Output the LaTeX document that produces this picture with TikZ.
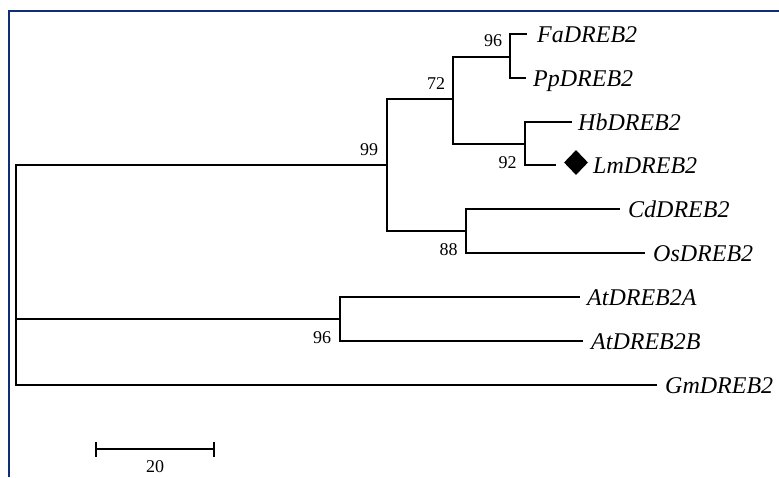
\documentclass[tikz,border=0pt]{standalone}
\usepackage{fontspec}
\setmainfont{Liberation Serif}
\usetikzlibrary{shapes.geometric}
\definecolor{navy}{RGB}{14,46,120}
\begin{document}
\begin{tikzpicture}[x=1pt,y=-1pt,
  branch/.style={line width=1.5pt, black},
  leaf/.style={anchor=base west, inner sep=0pt, font=\fontsize{24}{28}\selectfont\itshape, yshift=-8pt},
  boot/.style={inner sep=0pt, font=\fontsize{18}{20}\selectfont},
  frameline/.style={line width=2.8pt, navy}]
\useasboundingbox (0,0) rectangle (779,477);
% frame
\draw[frameline] (9,477) -- (9,11) -- (779,11);
% internal nodes
\coordinate (root) at (16,275);
\coordinate (n99) at (387,165);
\coordinate (n72) at (453,99);
\coordinate (n96) at (510,57);
\coordinate (n92) at (525,144);
\coordinate (n88) at (466,231);
\coordinate (n96b) at (340,319);
% leaf ends
\coordinate (eFa) at (527,34);
\coordinate (ePp) at (526,78);
\coordinate (eHb) at (572,122);
\coordinate (eLm) at (556,165);
\coordinate (eCd) at (620,209);
\coordinate (eOs) at (645,253);
\coordinate (eAtA) at (580,297);
\coordinate (eAtB) at (583,341);
\coordinate (eGm) at (657,385);
% branches
\draw[branch] (root) |- (n99);
\draw[branch] (root) |- (n96b);
\draw[branch] (root) |- (eGm);
\draw[branch] (n99) |- (n72);
\draw[branch] (n99) |- (n88);
\draw[branch] (n72) |- (n96);
\draw[branch] (n72) |- (n92);
\draw[branch] (n96) |- (eFa);
\draw[branch] (n96) |- (ePp);
\draw[branch] (n92) |- (eHb);
\draw[branch] (n92) |- (eLm);
\draw[branch] (n88) |- (eCd);
\draw[branch] (n88) |- (eOs);
\draw[branch] (n96b) |- (eAtA);
\draw[branch] (n96b) |- (eAtB);
% leaf labels
\node[leaf, xshift=10pt] (Fa) at (eFa) {FaDREB2};
\node[leaf, xshift=7pt] (Pp) at (ePp) {PpDREB2};
\node[leaf, xshift=6pt] (Hb) at (eHb) {HbDREB2};
\node[fill=black, inner sep=0pt, minimum width=24pt, minimum height=25pt, shape=diamond] (mark) at (576,162.5) {};
\node[leaf, xshift=37pt] (Lm) at (eLm) {LmDREB2};
\node[leaf, xshift=8pt] (Cd) at (eCd) {CdDREB2};
\node[leaf, xshift=8pt] (Os) at (eOs) {OsDREB2};
\node[leaf, xshift=7pt] (AtA) at (eAtA) {AtDREB2A};
\node[leaf, xshift=8pt] (AtB) at (eAtB) {AtDREB2B};
\node[leaf, xshift=8pt] (Gm) at (eGm) {GmDREB2};
% bootstrap values
\node[boot] (b99) at (369,150) {99};
\node[boot] (b72) at (436,84) {72};
\node[boot] (b96) at (493,41) {96};
\node[boot] (b92) at (507.5,162.5) {92};
\node[boot] (b88) at (448.5,249.5) {88};
\node[boot] (b96b) at (322,337.5) {96};
% scale bar
\coordinate (s1) at (96,449);
\coordinate (s2) at (214,449);
\draw[branch] (s1) -- (s2);
\draw[branch] ([yshift=-7.5pt]s1) -- ([yshift=7.5pt]s1);
\draw[branch] ([yshift=-7.5pt]s2) -- ([yshift=7.5pt]s2);
\node[boot] (sl) at (155,467) {20};
\end{tikzpicture}
\end{document}
